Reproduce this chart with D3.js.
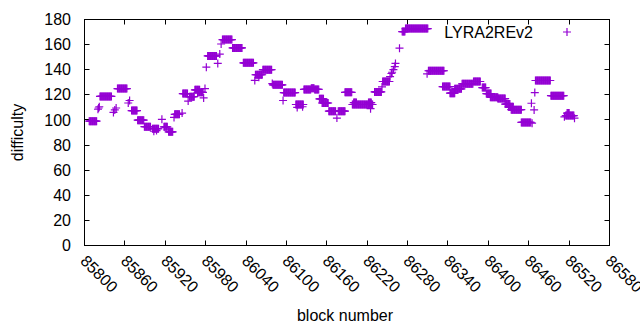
<!DOCTYPE html>
<html>
<head>
<meta charset="utf-8">
<script src="https://cdn.jsdelivr.net/npm/d3@7"></script>
<style>
  body { margin: 0; background: #fff; }
  svg text { font-family: "Liberation Sans", Arial, sans-serif; fill: #000; }
</style>
</head>
<body>
<svg width="640" height="330"></svg>
<script>
// difficulty plateaus: [first block, last block, difficulty]
const plateaus = [
  [85807, 85818, 99], [85820, 85820, 108.5], [85821, 85821, 109.5], [85822, 85822, 110.5],
  [85823, 85840, 118.7], [85843, 85843, 106], [85845, 85845, 108], [85847, 85847, 109.5],
  [85849, 85863, 125], [85865, 85865, 113.5], [85867, 85867, 115.5], [85870, 85878, 107.5],
  [85879, 85888, 99.8], [85889, 85898, 94.6], [85901, 85910, 93], [85903, 85903, 91],
  [85907, 85907, 91.5], [85915, 85915, 100.5], [85918, 85923, 94.5], [85925, 85931, 90.5],
  [85933, 85933, 102], [85934, 85941, 104.5], [85945, 85945, 105.5], [85946, 85953, 121],
  [85954, 85954, 115], [85956, 85963, 118.5], [85964, 85971, 124], [85968, 85976, 122],
  [85977, 85977, 117.5], [85979, 85979, 125], [85981, 85981, 142], [85983, 85996, 151],
  [85998, 85998, 145], [86001, 86001, 152.5], [86003, 86003, 160.5], [86005, 86019, 164],
  [86020, 86034, 157.4], [86036, 86051, 145.5], [86053, 86053, 131.5], [86054, 86064, 136],
  [86059, 86059, 134], [86065, 86078, 140], [86079, 86079, 129], [86080, 86094, 128],
  [86095, 86095, 115.5], [86096, 86113, 121.8], [86114, 86125, 112.3], [86116, 86116, 110],
  [86124, 86124, 110.5], [86126, 86136, 124.3], [86137, 86141, 125.3], [86142, 86148, 124.3],
  [86149, 86155, 116.8], [86153, 86162, 113.5], [86163, 86173, 107], [86175, 86175, 101.5],
  [86177, 86187, 107], [86187, 86197, 122], [86198, 86228, 112.3], [86200, 86204, 113.8],
  [86222, 86226, 113.8], [86225, 86225, 109], [86231, 86241, 122.3], [86242, 86242, 126.3],
  [86243, 86253, 130.6], [86254, 86254, 134.5], [86256, 86256, 137], [86257, 86257, 138],
  [86259, 86259, 140], [86261, 86261, 142.5], [86262, 86262, 145], [86268, 86268, 157.2],
  [86272, 86276, 170.4], [86277, 86310, 172.8], [86309, 86309, 136.7], [86311, 86334, 139.2],
  [86332, 86343, 126.6], [86343, 86350, 121.3], [86350, 86360, 124.8], [86361, 86377, 128.8],
  [86378, 86388, 130.6], [86391, 86396, 125.8], [86397, 86404, 121], [86403, 86414, 118.1],
  [86414, 86425, 117], [86425, 86432, 112.6], [86430, 86437, 110.5], [86434, 86449, 108.2],
  [86449, 86463, 98], [86464, 86464, 113.3], [86465, 86465, 97.4], [86468, 86468, 108],
  [86469, 86469, 121.8], [86470, 86492, 131.4], [86493, 86512, 119.3], [86513, 86513, 102.5],
  [86515, 86527, 103.5], [86517, 86520, 105.5], [86528, 86528, 101.4]
];

const xTicks = d3.range(85800, 86581, 60);
const yTicks = d3.range(0, 181, 20);
const seriesName = "LYRA2REv2";
const color = "#9400d3";

// one point per block inside each plateau
const points = [];
plateaus.forEach(([b0, b1, v]) => {
  for (let b = b0; b <= b1; b++) points.push({ block: b, difficulty: v });
});

const svg = d3.select("svg");
const pLeft = 84.5, pRight = 609.5, pTop = 19.5, pBottom = 245.5;

const x = d3.scaleLinear().domain([85800, 86580]).range([pLeft, pRight]);
const y = d3.scaleLinear().domain([0, 180]).range([pBottom, pTop]);

const fontSize = "16px";
const tick = 5;

// y ticks + mirrored on right
const gy = svg.append("g");
gy.selectAll("line.l").data(yTicks).enter().append("line")
  .attr("x1", pLeft).attr("x2", pLeft + tick)
  .attr("y1", d => Math.round(y(d) - 0.5) + 0.5).attr("y2", d => Math.round(y(d) - 0.5) + 0.5)
  .attr("stroke", "#000");
gy.selectAll("line.r").data(yTicks).enter().append("line")
  .attr("x1", pRight).attr("x2", pRight - tick)
  .attr("y1", d => Math.round(y(d) - 0.5) + 0.5).attr("y2", d => Math.round(y(d) - 0.5) + 0.5)
  .attr("stroke", "#000");
gy.selectAll("text").data(yTicks).enter().append("text")
  .attr("x", 71).attr("y", d => y(d))
  .attr("text-anchor", "end").attr("dy", "0.35em")
  .style("font-size", fontSize)
  .text(d => d);

// x ticks bottom + top
const gx = svg.append("g");
gx.selectAll("line.b").data(xTicks).enter().append("line")
  .attr("x1", d => Math.round(x(d) - 0.5) + 0.5).attr("x2", d => Math.round(x(d) - 0.5) + 0.5)
  .attr("y1", pBottom).attr("y2", pBottom - tick)
  .attr("stroke", "#000");
gx.selectAll("line.t").data(xTicks).enter().append("line")
  .attr("x1", d => Math.round(x(d) - 0.5) + 0.5).attr("x2", d => Math.round(x(d) - 0.5) + 0.5)
  .attr("y1", pTop).attr("y2", pTop + tick)
  .attr("stroke", "#000");
gx.selectAll("text").data(xTicks).enter().append("text")
  .attr("transform", d => `translate(${x(d) - 1}, 258) rotate(45)`)
  .attr("text-anchor", "start").attr("dy", "0.35em")
  .style("font-size", fontSize)
  .text(d => d);

// frame
svg.append("rect")
  .attr("x", pLeft).attr("y", pTop)
  .attr("width", pRight - pLeft).attr("height", pBottom - pTop)
  .attr("fill", "none").attr("stroke", "#000");

// axis labels
svg.append("text")
  .attr("transform", `translate(23, ${(pTop + pBottom) / 2}) rotate(-90)`)
  .attr("text-anchor", "middle")
  .style("font-size", fontSize)
  .text("difficulty");

svg.append("text")
  .attr("x", (pLeft + pRight) / 2 - 2).attr("y", 321)
  .attr("text-anchor", "middle")
  .style("font-size", fontSize)
  .text("block number");

// points as "+"
const s = 4;
const gp = svg.append("g").attr("stroke", color).attr("stroke-width", 1.2).attr("fill", "none");
gp.selectAll("path").data(points).enter().append("path")
  .attr("d", d => {
    const px = x(d.block), py = y(d.difficulty);
    return `M${px - s},${py}H${px + s}M${px},${py - s}V${py + s}`;
  });

// legend
svg.append("text")
  .attr("x", 533).attr("y", 32)
  .attr("text-anchor", "end").attr("dy", "0.35em")
  .style("font-size", fontSize)
  .text(seriesName);
svg.append("path")
  .attr("d", `M${567 - s},32H${567 + s}M567,${32 - s}V${32 + s}`)
  .attr("stroke", color).attr("stroke-width", 1.2);
</script>
</body>
</html>
